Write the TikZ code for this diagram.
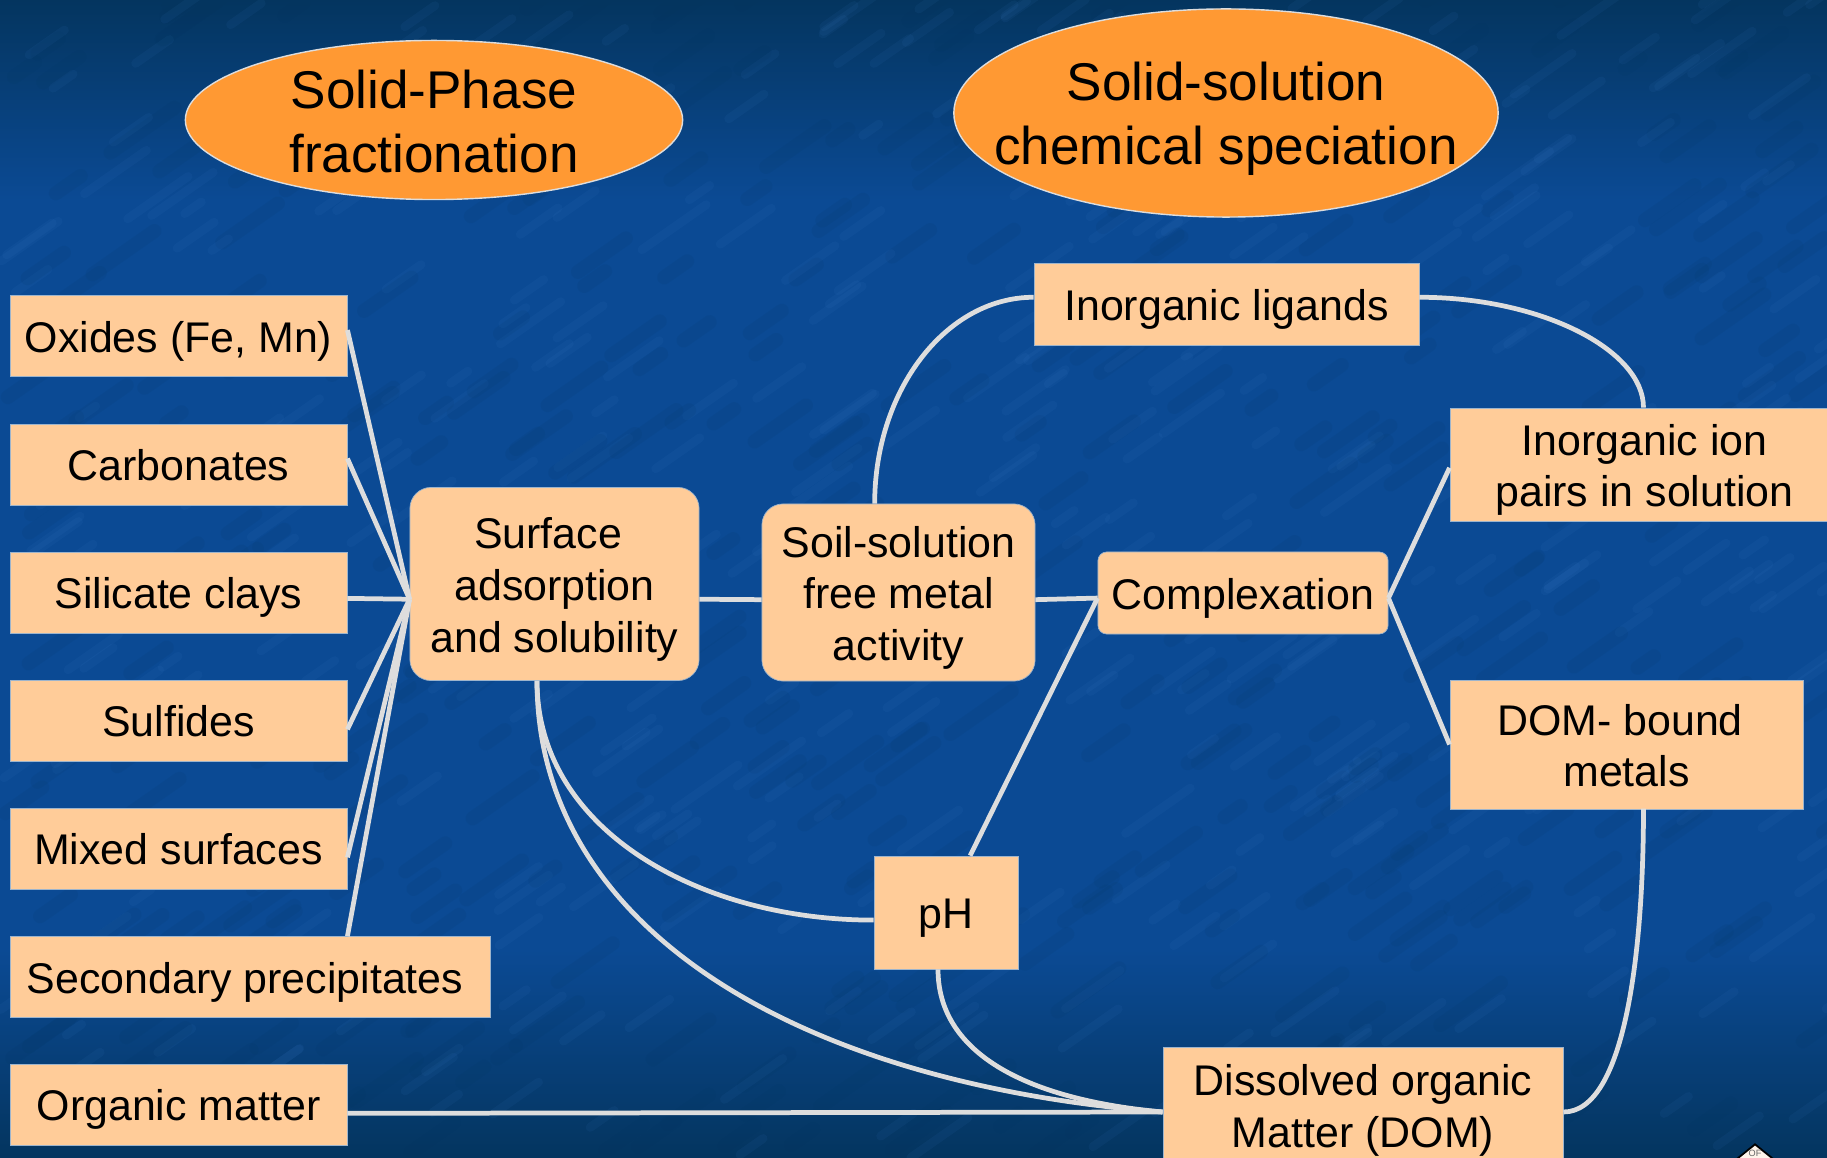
\documentclass[tikz,border=0pt]{standalone}
\usepackage{fontspec}
\setmainfont{Liberation Sans}
\usetikzlibrary{shapes.geometric}
\definecolor{boxfill}{HTML}{FFCC99}
\definecolor{ovalfill}{HTML}{FF9933}
\definecolor{linkgray}{HTML}{DDDDDD}
\definecolor{boxedge}{HTML}{9DB4CC}
\definecolor{seablue}{HTML}{0B4A94}
\definecolor{seadark}{HTML}{04355F}
\definecolor{sealight}{HTML}{4A8AD8}
\tikzset{
  textlines/.style={execute at begin node={\rule[-2.6pt]{0pt}{#1}}},
  plainbox/.style={rectangle, draw=boxedge, line width=0.2pt, fill=boxfill, inner sep=0pt, align=center, font=\fontsize{12.2}{14.7}\selectfont, textlines=14.5pt},
  roundbox/.style={plainbox, rounded corners=6pt},
  tinybox/.style={plainbox, rounded corners=2.5pt},
  leftbox/.style={plainbox, minimum width=3.37cm, minimum height=0.81cm},
  oval/.style={ellipse, draw=linkgray, line width=0.4pt, fill=ovalfill, inner sep=0pt},
  ovaltext/.style={inner sep=0pt, align=center, font=\fontsize{15.1}{18.2}\selectfont},
  link/.style={draw=linkgray, line width=1.35pt}
}
\begin{document}
\begin{tikzpicture}[x=0.01cm,y=-0.01cm]
\useasboundingbox (0,0) rectangle (1827,1158);

% backdrop
\fill[seablue] (0,0) rectangle (1827,1158);
\shade[top color=seadark, bottom color=seablue] (0,0) rectangle (1827,200);
\shade[top color=seablue, bottom color=seadark] (0,950) rectangle (1827,1158);
\pgfmathsetseed{27}
\foreach \i in {1,...,420}{
  \pgfmathsetmacro{\px}{rnd*1827}
  \pgfmathsetmacro{\py}{rnd*1158}
  \pgfmathsetmacro{\pl}{15+rnd*50}
  \draw[sealight, opacity=0.07, line width=2.5pt, line cap=round] (\px,\py) -- ++(\pl,-0.7*\pl);
  \pgfmathsetmacro{\px}{rnd*1827}
  \pgfmathsetmacro{\py}{rnd*1158}
  \draw[seadark, opacity=0.10, line width=4pt, line cap=round] (\px,\py) -- ++(\pl,-0.7*\pl);
}

% ovals
\node[oval, minimum width=4.97cm, minimum height=1.59cm] (phase) at (434,120) {};
\node[ovaltext] (phasetext) at (434,122) {Solid-Phase\\fractionation};
\node[oval, minimum width=5.44cm, minimum height=2.08cm] (speciation) at (1226,113) {};
\node[ovaltext] (speciationtext) at (1226,119) {Solid-solution\\chemical speciation};

% left column
\node[leftbox] (oxides) at (178.5,336) {Oxides (Fe, Mn)};
\node[leftbox] (carbonates) at (178.5,464.5) {Carbonates};
\node[leftbox] (silicate) at (178.5,592.5) {Silicate clays};
\node[leftbox] (sulfides) at (178.5,720.5) {Sulfides};
\node[leftbox] (mixed) at (178.5,848.5) {Mixed surfaces};
\node[plainbox, minimum width=4.80cm, minimum height=0.81cm] (secondary) at (250,977) {Secondary precipitates\hspace*{2.8pt}};
\node[leftbox] (organic) at (178.5,1104.5) {Organic matter};

% middle
\node[roundbox, textlines=43.9pt, minimum width=2.89cm, minimum height=1.93cm] (surface) at (554.5,584) {Surface\hspace*{0.3em}\\adsorption\\and solubility};
\node[roundbox, textlines=43.9pt, minimum width=2.73cm, minimum height=1.77cm] (soil) at (898.5,592.5) {Soil-solution\\free metal\\activity};
\node[tinybox, minimum width=2.90cm, minimum height=0.82cm] (complexation) at (1243,593) {Complexation};
\node[plainbox, minimum width=3.85cm, minimum height=0.82cm] (ligands) at (1226.5,304) {Inorganic ligands};
\node[plainbox, minimum width=1.44cm, minimum height=1.13cm] (acidity) at (946,912.5) {pH};

% right
\node[plainbox, textlines=29.2pt, minimum width=3.77cm, minimum height=1.13cm] (ionpairs) at (1638.5,464.5) {\hspace*{3.4pt}Inorganic ion\\\hspace*{3.4pt}pairs in solution};
\node[plainbox, textlines=29.2pt, minimum width=3.53cm, minimum height=1.29cm] (bound) at (1626.5,744.5) {DOM- bound\hspace*{0.3em}\\metals};
\node[plainbox, textlines=29.2pt, minimum width=4.00cm, minimum height=1.16cm] (dissolved) at (1363,1105) {Dissolved organic\\Matter (DOM)};

% links into surface
\draw[link] (oxides.2) -- (surface.186.3);
\draw[link] (carbonates.2) -- (surface.186.3);
\draw[link] (silicate.-2.5) -- (surface.186.3);
\draw[link] (sulfides.-3) -- (surface.186.3);
\draw[link] (mixed.-3) -- (surface.186.3);
\draw[link] (secondary.north -| oxides.east) -- (surface.186.3);

\draw[link] (surface.-6.3) -- (soil.183.2);
\draw[link] (soil.-3.2) -- (complexation.182.8);
\draw[link] (complexation.-2.8) -- (ionpairs.181);
\draw[link] (complexation.-2.8) -- (bound.west);
\draw[link] (acidity.67) -- (complexation.182.8);
\draw[link] (organic.-3) -- (dissolved.182.4);

% curved links
\draw[link] (soil.105) .. controls +(0,-114) and +(-87,0) .. (ligands.178);
\draw[link] (ligands.2) .. controls +(121,0) and +(0,-58) .. (ionpairs.85);
\draw[link] (bound.north -| ionpairs.85) ++(0,129) .. controls +(0,141) and +(62,0) .. (dissolved.-2);
\draw[link] (surface.south -| 537,0) .. controls +(0,149) and +(-174,0) .. (acidity.186);
\draw[link] (surface.south -| 537,0) .. controls +(0,249) and +(-362,-28) .. (dissolved.182.4);
\draw[link] (acidity.262) .. controls +(0,81) and +(-142,-13) .. (dissolved.182.4);

% corner emblem
\node[diamond, draw=black, line width=0.5pt, fill=boxfill!20!white, minimum width=0.52cm, minimum height=0.42cm, inner sep=0pt] (emblem) at (1755,1165) {};
\node[inner sep=0pt, text=black!60, font=\fontsize{2.6}{3}\selectfont] (emblemtext) at (1755,1153) {OF};
\end{tikzpicture}
\end{document}
